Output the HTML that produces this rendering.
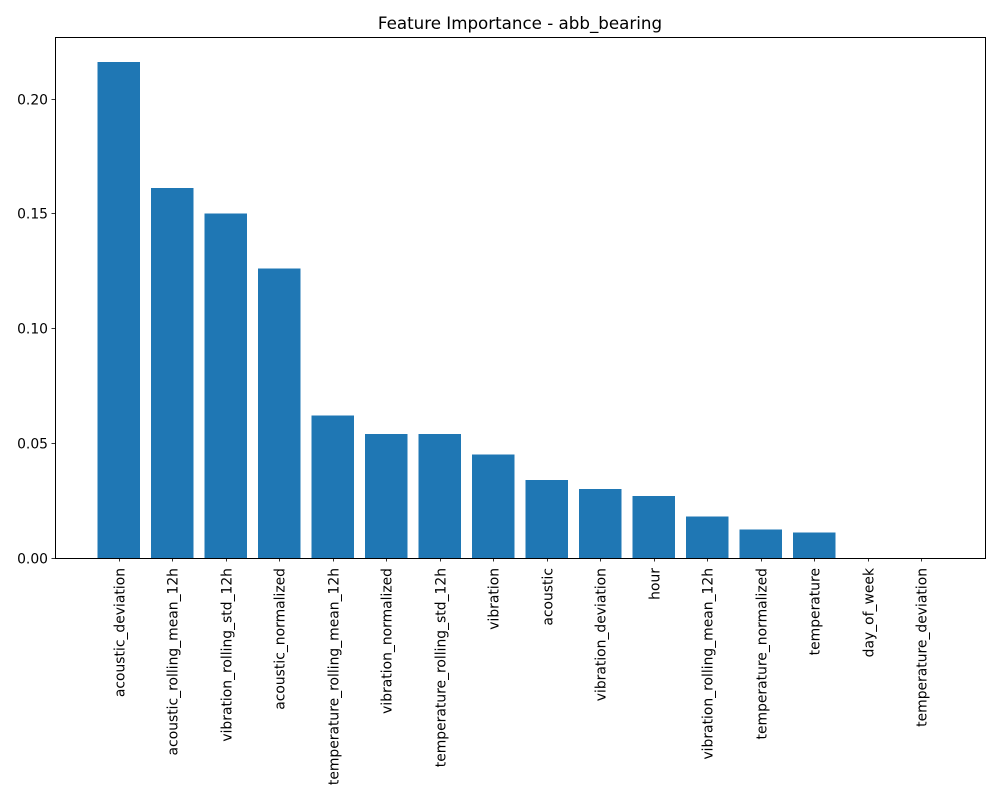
<!DOCTYPE html>
<html><head><meta charset="utf-8"><style>
html,body{margin:0;padding:0;background:#fff;}
svg{display:block;font-family:"DejaVu Sans","Liberation Sans",sans-serif;}
</style></head><body>
<svg id="chart" width="1000" height="800" viewBox="0 0 1000 800">
<rect x="0" y="0" width="1000" height="800" fill="#fff"/>
<text x="520" y="29" text-anchor="middle" font-size="16.7" fill="#000">Feature Importance - abb_bearing</text>
<g id="bars"></g>
<g id="yaxis"></g>
<g id="xaxis"></g>
<rect x="55.5" y="37.5" width="930" height="521" fill="none" stroke="#000" stroke-width="1"/>
</svg>
<script>
const categories = ["acoustic_deviation","acoustic_rolling_mean_12h","vibration_rolling_std_12h","acoustic_normalized","temperature_rolling_mean_12h","vibration_normalized","temperature_rolling_std_12h","vibration","acoustic","vibration_deviation","hour","vibration_rolling_mean_12h","temperature_normalized","temperature","day_of_week","temperature_deviation"];
const importances = [0.216,0.161,0.150,0.126,0.062,0.054,0.054,0.045,0.034,0.030,0.027,0.018,0.0125,0.011,0,0];
const yTicks = [0,0.05,0.10,0.15,0.20];
const yTickLabels = ["0.00","0.05","0.10","0.15","0.20"];

const NS="http://www.w3.org/2000/svg";
const L=55,R=985,T=37,B=558;
const n=categories.length;
const xmin=-0.4-0.05*(n-1+0.8), xmax=n-1+0.4+0.05*(n-1+0.8);
const ymax=Math.max(...importances)*1.05;
const xs=v=>L+(v-xmin)/(xmax-xmin)*(R-L);
const ys=v=>B-v/ymax*(B-T);
function mk(tag,attrs,parent){const e=document.createElementNS(NS,tag);for(const k in attrs)e.setAttribute(k,attrs[k]);parent.appendChild(e);return e;}
const gb=document.getElementById('bars'),gy=document.getElementById('yaxis'),gx=document.getElementById('xaxis');
importances.forEach((v,i)=>{
  const x0=xs(i-0.4),x1=xs(i+0.4);
  const r=mk('rect',{x:x0,y:ys(v),width:x1-x0,height:B-ys(v),fill:'#1f77b4','shape-rendering':'crispEdges'},gb);
  
  
});
yTicks.forEach((t,i)=>{
  const y=Math.round(ys(t))+0.5;
  const l=mk('line',{x1:L-3.5,x2:L,y1:y,y2:y,stroke:'#000','stroke-width':0.8},gy);
  
  
  const tx=mk('text',{x:L-7,y:y+5,'text-anchor':'end','font-size':13.9,fill:'#000'},gy);
  tx.textContent=yTickLabels[i];
  
  
});
categories.forEach((c,i)=>{
  const x=Math.round(xs(i))+0.5;
  const l=mk('line',{x1:x,x2:x,y1:B,y2:B+3.5,stroke:'#000','stroke-width':0.8},gx);
  
  
  const tx=mk('text',{x:0,y:0,'text-anchor':'end','font-size':13.9,fill:'#000',transform:`translate(${x+5},${B+10}) rotate(-90)`},gx);
  tx.textContent=c;
  
  
});
</script>
</body></html>
